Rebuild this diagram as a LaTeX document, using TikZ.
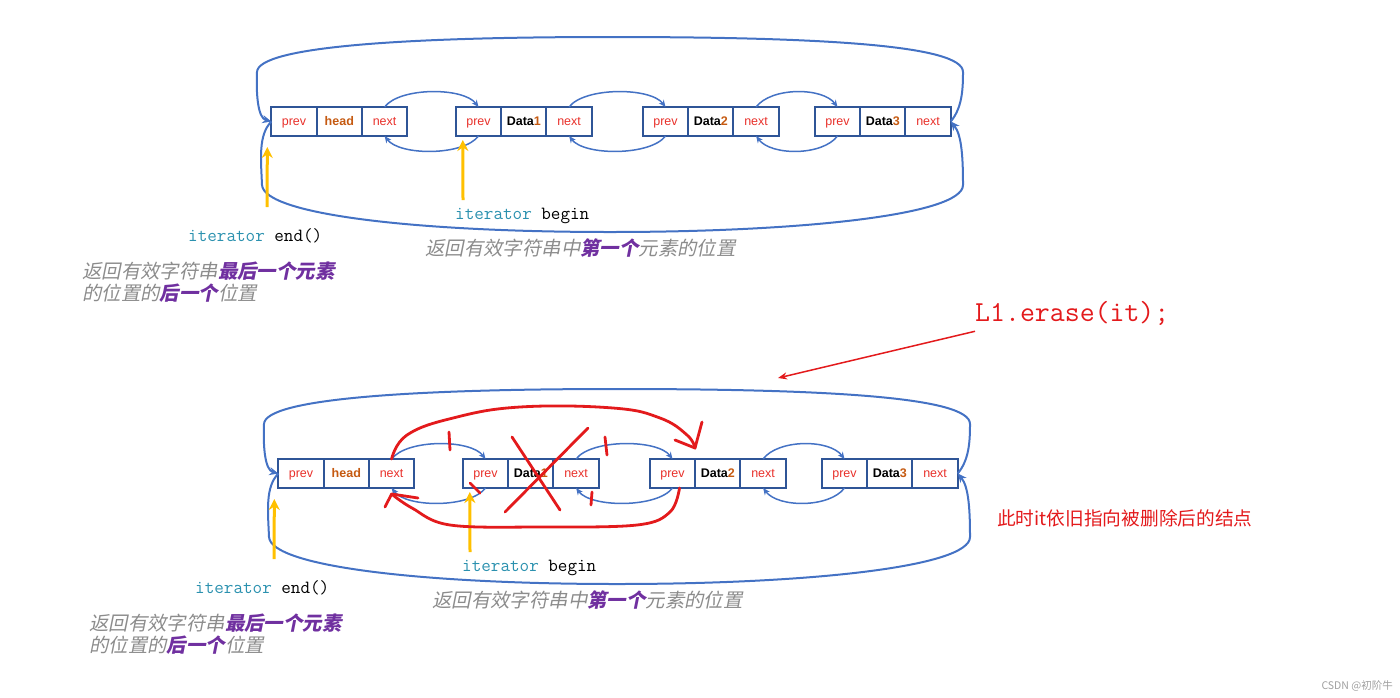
\documentclass[tikz,border=0pt]{standalone}
\usepackage{fontspec}
\usepackage{xcolor}
\usepackage{tikz}
\usetikzlibrary{
    positioning,
    arrows.meta
}

\setmainfont{Liberation Sans}
\newfontfamily\cjk{Noto Sans CJK SC}
\newfontfamily\cjkit[FakeSlant=0.2]{Noto Sans CJK SC}

\definecolor{boxline}{HTML}{2F5597}
\definecolor{linkblue}{HTML}{4472C4}
\definecolor{fieldred}{HTML}{E8302A}
\definecolor{headbrown}{HTML}{C55A11}
\definecolor{iteryellow}{HTML}{FFC000}
\definecolor{iterteal}{HTML}{2B91AF}
\definecolor{notegray}{HTML}{8C8C8C}
\definecolor{notepurple}{HTML}{7030A0}
\definecolor{markred}{HTML}{E31A1C}

\newcommand{\keyword}[1]{{\bfseries\color{notepurple}#1}}
\newcommand{\orn}[1]{{\color{headbrown}#1}}

\begin{document}
\begin{tikzpicture}[
    x=1pt, y=-1pt,
    cell/.style={rectangle, draw=boxline, line width=2pt, minimum width=45.3pt, minimum height=29pt, inner sep=0pt, outer sep=0pt, text height=10pt, text depth=2pt, text=fieldred, font=\fontsize{12.5}{14}\selectfont},
    link/.style={draw=linkblue, line width=1.5pt, -{Stealth[length=7pt,width=6pt]}},
    ring/.style={draw=linkblue, line width=2pt, -{Stealth[length=9pt,width=8pt]}},
    iter/.style={draw=iteryellow, line width=3pt, -{Stealth[length=11pt,width=11pt]}},
    codetxt/.style={font=\ttfamily\fontsize{18.6}{20}\selectfont, anchor=west, inner sep=0pt},
    desc/.style={font=\cjkit\fontsize{19.4}{22.5}\selectfont, text=notegray, anchor=west, align=left, inner sep=0pt},
    pen/.style={draw=markred, line width=2.8pt, line cap=round, line join=round}
]
\useasboundingbox (0,0) rectangle (1400,697);

% the list, before (a) and after (b) the erase
\foreach \r/\dx/\dy in {a/0/0, b/7/352}{
    \node[cell] (\r0p) at (294+\dx,121.5+\dy) {prev};
    \node[cell, right=0pt of \r0p] (\r0d) {\bfseries\orn{head}};
    \node[cell, right=0pt of \r0d] (\r0n) {next};

    \node[cell] (\r1p) at (478.5+\dx,121.5+\dy) {prev};
    \node[cell, right=0pt of \r1p, text=black] (\r1d) {\bfseries Data\orn{1}};
    \node[cell, right=0pt of \r1d] (\r1n) {next};

    \node[cell] (\r2p) at (665.5+\dx,121.5+\dy) {prev};
    \node[cell, right=0pt of \r2p, text=black] (\r2d) {\bfseries Data\orn{2}};
    \node[cell, right=0pt of \r2d] (\r2n) {next};

    \node[cell] (\r3p) at (837.5+\dx,121.5+\dy) {prev};
    \node[cell, right=0pt of \r3p, text=black] (\r3d) {\bfseries Data\orn{3}};
    \node[cell, right=0pt of \r3d] (\r3n) {next};

    % next / prev links
    \foreach \i/\j in {0/1, 1/2, 2/3}{
        \draw[link] (\r\i n.north) .. controls +(15,-20) and +(-15,-20) .. (\r\j p.north);
        \draw[link] (\r\j p.south) .. controls +(-15,20) and +(15,20) .. (\r\i n.south);
    }

    % ring back to the head
    \draw[ring] (\r3n.east) .. controls (962+\dx,108+\dy) and (963+\dx,90+\dy) .. (963+\dx,72+\dy)
        .. controls (963+\dx,45+\dy) and (820+\dx,37+\dy) .. (610+\dx,37+\dy)
        .. controls (400+\dx,37+\dy) and (258+\dx,47+\dy) .. (257+\dx,72+\dy)
        .. controls (256+\dx,95+\dy) and (258+\dx,118+\dy) .. (\r0p.west);
    \draw[ring] (\r0p.west) .. controls (258+\dx,135+\dy) and (261+\dx,160+\dy) .. (262+\dx,185+\dy)
        .. controls (264+\dx,215+\dy) and (420+\dx,232+\dy) .. (610+\dx,232+\dy)
        .. controls (800+\dx,232+\dy) and (963+\dx,215+\dy) .. (963+\dx,185+\dy)
        .. controls (963+\dx,160+\dy) and (962+\dx,135+\dy) .. (\r3n.east);

    % iterators
    \coordinate (\r ef) at (267+\dx,207+\dy);
    \coordinate (\r bf) at (463+\dx,200+\dy);
    \draw[iter] (\r ef) -- ([xshift=-4pt,yshift=-11pt]\r0p.south west);
    \draw[iter] (\r bf) -- ([xshift=7pt,yshift=-4pt]\r1p.south west);

    \node[codetxt] (\r bgn) at (455+\dx,216+\dy) {\textcolor{iterteal}{iterator} begin};
    \node[codetxt] (\r end) at (188+\dx,236+\dy) {\textcolor{iterteal}{iterator} end()};
    \node[desc] (\r first) at (425+\dx,248+\dy) {返回有效字符串中\keyword{第一个}元素的位置};
    \node[desc] (\r last) at (82+\dx,282+\dy) {返回有效字符串\keyword{最后一个元素}\\的位置的\keyword{后一个}位置};
}

% erase call
\node[font=\ttfamily\fontsize{29}{32}\selectfont, text=markred, anchor=west, inner sep=0pt] (erase) at (975,313) {L1.erase(it);};
\coordinate (hit) at (778,378);
\draw[draw=markred, line width=1.5pt, -{Stealth[length=9pt,width=7pt]}] ([yshift=-6pt]erase.south west) -- (hit);

% pen marks over the second list
\coordinate (chk) at (695,448);
\draw[pen] plot[smooth, tension=0.7] coordinates {(b0n.north) (407,435) (453,418) (520,407) (613,408) (660,418) (687,435) (chk)};
\draw[pen] (675,440) -- (chk) -- (702,422);
\coordinate (back) at ([yshift=-6pt]b0n.south);
\draw[pen] plot[smooth, tension=0.6] coordinates {([xshift=7pt]b2p.south) (670,512) (637,525) (540,527) (450,525) (412,508) (back)};
\draw[pen] (385,507) -- (back) -- (418,498);
\draw[pen] (512,437) -- (560,510);
\draw[pen] (588,428) -- (505,512);
\draw[pen] (449,432) -- (450,450);
\draw[pen] (605,437) -- (607,455);
\draw[pen] (470,483) -- (480,493);
\draw[pen] (592,492) -- (591,505);

\node[font=\cjk\fontsize{18.7}{20}\selectfont, text=markred, anchor=west, inner sep=0pt] (note) at (997,518) {此时it依旧指向被删除后的结点};
\node[font=\cjk\fontsize{10.5}{12}\selectfont, text=gray!75, anchor=east, inner sep=0pt] (mark) at (1393,686) {CSDN @初阶牛};

\end{tikzpicture}
\end{document}
